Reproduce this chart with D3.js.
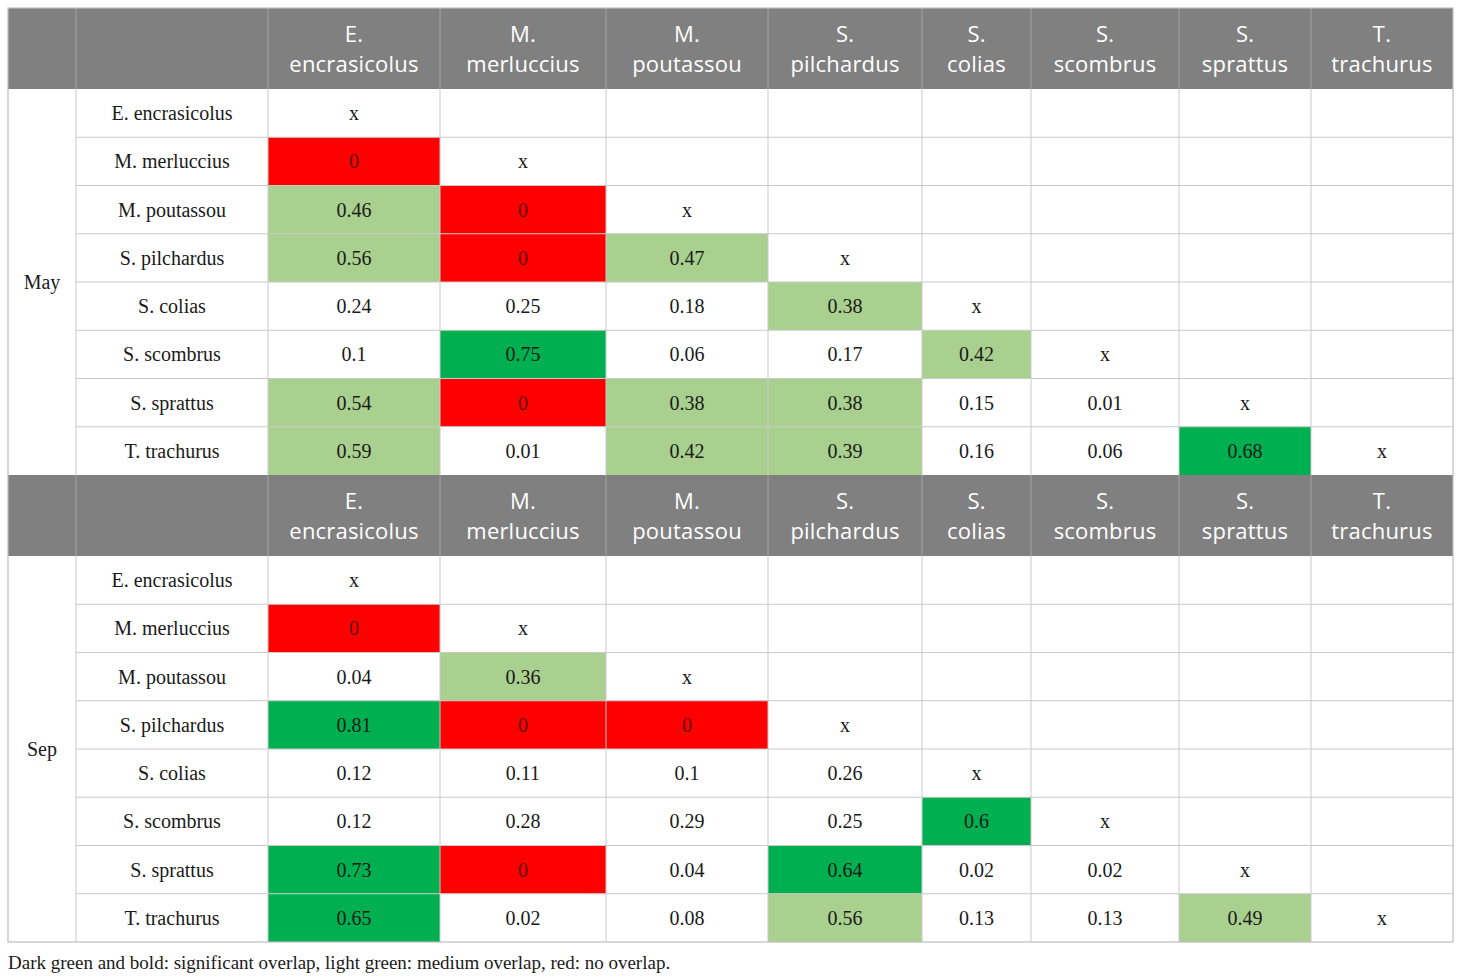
<!DOCTYPE html>
<html>
<head>
    <script src="https://cdnjs.cloudflare.com/ajax/libs/d3/7.8.5/d3.min.js"></script>
    <style>
        body { margin: 0; background: #fff; }
        .head-text { font-family: "Open Sans", sans-serif; font-size: 22px; fill: #fff; letter-spacing: 0.2px; }
        .body-text { font-family: "Liberation Serif", serif; font-size: 20px; fill: #1a1a1a; }
        .caption { font-family: "Liberation Serif", serif; font-size: 19px; fill: #1a1a1a; }
    </style>
</head>
<body>
<svg id="chart" width="1460" height="979"></svg>
<script>
// species (columns and rows)
const species = ["E. encrasicolus", "M. merluccius", "M. poutassou", "S. pilchardus",
                 "S. colias", "S. scombrus", "S. sprattus", "T. trachurus"];
const months = ["May", "Sep"];

// lower-triangle overlap values, row by row (diagonal is "x", upper part empty)
const mayValues = [
    [],
    [0],
    [0.46, 0],
    [0.56, 0, 0.47],
    [0.24, 0.25, 0.18, 0.38],
    [0.1, 0.75, 0.06, 0.17, 0.42],
    [0.54, 0, 0.38, 0.38, 0.15, 0.01],
    [0.59, 0.01, 0.42, 0.39, 0.16, 0.06, 0.68]
];
const sepValues = [
    [],
    [0],
    [0.04, 0.36],
    [0.81, 0, 0],
    [0.12, 0.11, 0.1, 0.26],
    [0.12, 0.28, 0.29, 0.25, 0.6],
    [0.73, 0, 0.04, 0.64, 0.02, 0.02],
    [0.65, 0.02, 0.08, 0.56, 0.13, 0.13, 0.49]
];
const caption = "Dark green and bold: significant overlap, light green: medium overlap, red: no overlap.";

const svg = d3.select("#chart");

// layout
const left = 8;
const colWidths = [68, 192, 172, 166, 162, 154, 109, 148, 132, 142];
const colEdges = [left, ...d3.cumsum(colWidths).map(w => left + w)];
const headH = 81;
const rowH = 48.25;
const blockTop = [8, 8 + headH + rowH * 8];

const fill = d3.scaleThreshold()
    .domain([0.005, 0.3, 0.6])
    .range(["#ff0000", "#ffffff", "#a9d08e", "#00b050"]);

const gridColor = "#c9c9c9";

function drawBlock(month, values, top) {
    const g = svg.append("g");
    const y = d3.scaleBand().domain(d3.range(8)).range([top + headH, top + headH + rowH * 8]);

    // header band
    g.append("rect")
        .attr("x", colEdges[0]).attr("y", top)
        .attr("width", colEdges[10] - colEdges[0]).attr("height", headH)
        .attr("fill", "#808080");

    species.forEach((s, j) => {
        const cx = (colEdges[j + 2] + colEdges[j + 3]) / 2;
        const parts = s.split(" ");
        const t = g.append("text").attr("class", "head-text")
            .attr("text-anchor", "middle")
            .attr("y", top + 34);
        t.append("tspan").attr("x", cx).text(parts[0]);
        t.append("tspan").attr("x", cx).attr("dy", 30).text(parts[1]);
    });

    // header vertical separators
    colEdges.slice(1, 10).forEach(x => {
        g.append("line").attr("x1", x).attr("x2", x)
            .attr("y1", top).attr("y2", top + headH)
            .attr("stroke", "#a3a3a3").attr("stroke-width", 1);
    });

    // body cells
    species.forEach((rowName, i) => {
        const yy = y(i);
        for (let j = 0; j < 8; j++) {
            const x0 = colEdges[j + 2], x1 = colEdges[j + 3];
            let label = "";
            let c = "#ffffff";
            if (j === i) label = "x";
            else if (j < i) {
                const v = values[i][j];
                label = String(v);
                c = fill(v);
            }
            g.append("rect").attr("x", x0).attr("y", yy)
                .attr("width", x1 - x0).attr("height", y.bandwidth())
                .attr("fill", c);
            if (label) {
                g.append("text").attr("class", "body-text")
                    .attr("x", (x0 + x1) / 2).attr("y", yy + y.bandwidth() / 2)
                    .attr("text-anchor", "middle").attr("dominant-baseline", "central")
                    .style("fill", c === "#ff0000" ? "#5a1010" : "#1a1a1a")
                    .text(label);
            }
        }
        g.append("text").attr("class", "body-text")
            .attr("x", (colEdges[1] + colEdges[2]) / 2).attr("y", yy + y.bandwidth() / 2)
            .attr("text-anchor", "middle").attr("dominant-baseline", "central")
            .text(rowName);
    });

    // grid lines in body
    d3.range(1, 8).forEach(i => {
        g.append("line").attr("x1", colEdges[1]).attr("x2", colEdges[10])
            .attr("y1", y(i)).attr("y2", y(i))
            .attr("stroke", gridColor).attr("stroke-width", 1);
    });
    colEdges.slice(1, 10).forEach(x => {
        g.append("line").attr("x1", x).attr("x2", x)
            .attr("y1", top + headH).attr("y2", top + headH + rowH * 8)
            .attr("stroke", gridColor).attr("stroke-width", 1);
    });

    // month label
    g.append("text").attr("class", "body-text")
        .attr("x", (colEdges[0] + colEdges[1]) / 2)
        .attr("y", top + headH + rowH * 4)
        .attr("text-anchor", "middle").attr("dominant-baseline", "central")
        .text(month);
}

drawBlock(months[0], mayValues, blockTop[0]);
drawBlock(months[1], sepValues, blockTop[1]);

// outer frame
svg.append("rect")
    .attr("x", colEdges[0]).attr("y", blockTop[0])
    .attr("width", colEdges[10] - colEdges[0])
    .attr("height", blockTop[1] + headH + rowH * 8 - blockTop[0])
    .attr("fill", "none").attr("stroke", "#bdbdbd").attr("stroke-width", 1.2);

svg.append("text").attr("class", "caption")
    .attr("x", 8).attr("y", 962)
    .attr("dominant-baseline", "central")
    .text(caption);
</script>
</body>
</html>
